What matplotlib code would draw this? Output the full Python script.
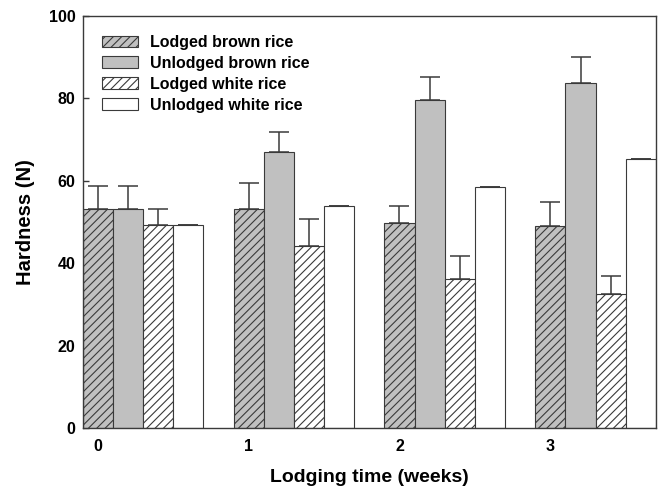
import matplotlib
matplotlib.use('Agg')
import matplotlib.pyplot as plt
import numpy as np

plt.rcParams['font.family'] = ['Liberation Sans', 'DejaVu Sans']
plt.rcParams['font.weight'] = 'bold'
plt.rcParams['hatch.color'] = '#3a3a3a'
plt.rcParams['hatch.linewidth'] = 0.8

# datos
weeks = [0, 1, 2, 3]
labels = ['Lodged brown rice', 'Unlodged brown rice',
          'Lodged white rice', 'Unlodged white rice']
lodged_brown = [53.1, 53.1, 49.8, 49.1]
lodged_brown_err = [5.6, 6.4, 4.2, 5.8]
unlodged_brown = [53.1, 66.9, 79.5, 83.7]
unlodged_brown_err = [5.6, 5.0, 5.8, 6.3]
lodged_white = [49.3, 44.3, 36.2, 32.5]
lodged_white_err = [3.8, 6.5, 5.6, 4.5]
unlodged_white = [49.3, 54.0, 58.4, 65.2]
unlodged_white_err = [0, 0, 0, 0]

series = [lodged_brown, unlodged_brown, lodged_white, unlodged_white]
errors = [lodged_brown_err, unlodged_brown_err, lodged_white_err, unlodged_white_err]
colores = ['#c0c0c0', '#c0c0c0', 'white', 'white']
hatches = ['////', None, '////', None]

edge = '#3a3a3a'
w = 0.2

fig = plt.figure(figsize=(6.63, 4.93), dpi=100)
ax = fig.add_axes([0.1247, 0.1318, 0.8647, 0.8357])

x = np.array(weeks, dtype=float)
for k in range(4):
    ax.bar(x + k*w, series[k], width=w, color=colores[k], edgecolor=edge,
           linewidth=0.8, hatch=hatches[k], label=labels[k], zorder=2)
    ax.errorbar(x + k*w, series[k], yerr=[[0]*4, errors[k]], fmt='none',
                ecolor=edge, elinewidth=1.1, capsize=7, capthick=1.1, zorder=1)

ax.set_xlim(-0.1, 3.7)
ax.set_ylim(0, 100)
ax.set_xticks(weeks)
ax.set_yticks([0, 20, 40, 60, 80, 100])
ax.tick_params(axis='x', length=0, pad=8, labelsize=11.5)
ax.tick_params(axis='y', direction='in', length=4, width=1, color=edge, pad=5, labelsize=11.5)
for s in ax.spines.values():
    s.set_color(edge)
    s.set_linewidth(1.0)

ax.set_xlabel('Lodging time (weeks)', fontsize=14, fontweight='bold', labelpad=11)
ax.set_ylabel('Hardness (N)', fontsize=14.5, fontweight='bold', labelpad=10)

leg = ax.legend(loc='upper left', bbox_to_anchor=(0.033, 0.954), frameon=False,
                fontsize=11.5, borderpad=0, borderaxespad=0, handlelength=2.25,
                handleheight=0.75, handletextpad=0.75, labelspacing=0.37)

fig.savefig('out.png', dpi=100)
